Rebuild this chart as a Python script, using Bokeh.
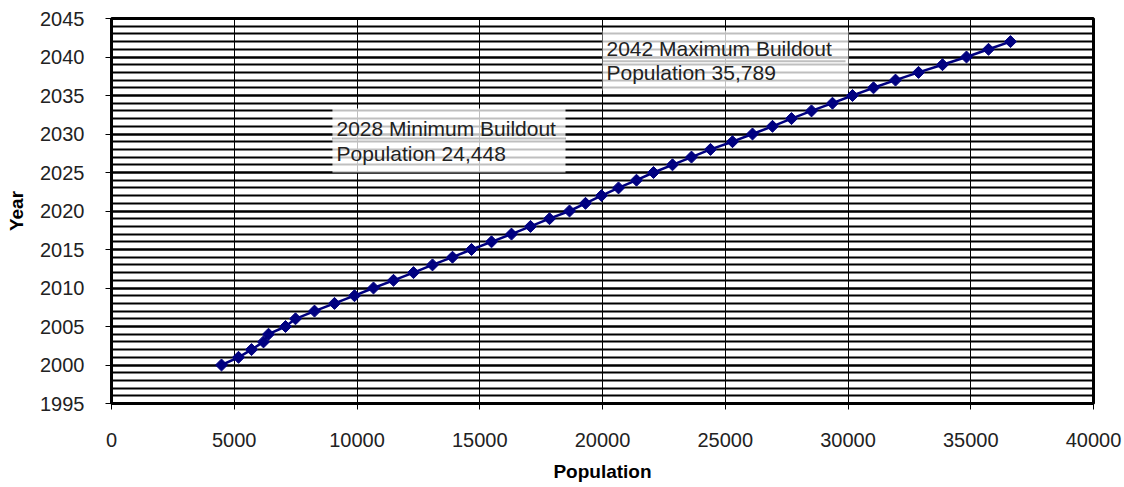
import math
from bokeh.plotting import figure
from bokeh.models import SingleIntervalTicker, Label, BoxAnnotation
from bokeh.embed import file_html
from bokeh.resources import INLINE

years = list(range(2000, 2043))
population = [4481, 5173, 5703, 6191, 6395, 7088, 7495, 8269, 9083, 9898,
              10672, 11487, 12301, 13075, 13890, 14664, 15479, 16293, 17067, 17841,
              18656, 19307, 19959, 20652, 21385, 22077, 22851, 23625, 24399, 25295,
              26110, 26924, 27698, 28513, 29368, 30183, 31039, 31935, 32872, 33849,
              34827, 35723, 36619]

min_label = ["2028 Minimum Buildout", "Population 24,448"]
max_label = ["2042 Maximum Buildout", "Population 35,789"]

FONT = "Liberation Sans"

p = figure(width=1124, height=487, output_backend="svg", toolbar_location=None,
           x_range=(0, 40000), y_range=(1995, 2045),
           min_border_left=111, min_border_right=31, min_border_top=18, min_border_bottom=84,
           background_fill_color="white", border_fill_color="white")

p.xaxis.ticker = SingleIntervalTicker(interval=5000, num_minor_ticks=0)
p.yaxis.ticker = SingleIntervalTicker(interval=5, num_minor_ticks=5)

p.xgrid.grid_line_color = "black"
p.xgrid.grid_line_width = 1
p.ygrid.grid_line_color = "black"
p.ygrid.grid_line_width = 2
p.ygrid.minor_grid_line_color = "black"
p.ygrid.minor_grid_line_width = 2

p.outline_line_color = "black"
p.outline_line_width = 3

for ax in (p.xaxis, p.yaxis):
    ax.axis_line_color = "black"
    ax.major_tick_line_color = "black"
    ax.major_tick_line_width = 1
    ax.major_tick_out = 6
    ax.major_tick_in = 0
    ax.minor_tick_line_color = None
    ax.major_label_text_font = FONT
    ax.major_label_text_font_size = "20px"
    ax.major_label_text_color = "#222222"
    ax.axis_label_text_font = FONT
    ax.axis_label_text_font_size = "19px"
    ax.axis_label_text_font_style = "bold"
    ax.axis_label_text_color = "black"

p.yaxis.axis_line_width = 3
p.xaxis.axis_line_width = 2
p.xaxis.axis_label = "Population"
p.yaxis.axis_label = "Year"
p.xaxis.major_label_standoff = 23
p.yaxis.major_label_standoff = 21
p.xaxis.axis_label_standoff = 11
p.yaxis.axis_label_standoff = 10

# annotation boxes
p.add_layout(BoxAnnotation(left=9000, right=18493, bottom=2025.0, top=2033.3,
                           fill_color="white", fill_alpha=0.75, line_color=None))
p.add_layout(BoxAnnotation(left=20000, right=30020, bottom=2035.65, top=2043.44,
                           fill_color="white", fill_alpha=0.75, line_color=None))
p.line(x=[9000, 18493], y=[2029.42, 2029.42], line_color="black", line_width=2)
p.line(x=[20000, 29900], y=[2039.45, 2039.45], line_color="black", line_width=2)

for txt, yy in zip(min_label, [2030.7, 2027.47]):
    p.add_layout(Label(x=9165, y=yy, text=txt, text_font=FONT, text_font_size="21px",
                       text_color="#222222", text_baseline="middle", text_align="left"))
for txt, yy in zip(max_label, [2041.1, 2038.0]):
    p.add_layout(Label(x=20163, y=yy, text=txt, text_font=FONT, text_font_size="21px",
                       text_color="#222222", text_baseline="middle", text_align="left"))

p.line(population, years, line_color="#000080", line_width=2.5)
p.scatter(population, years, marker="square", angle=math.pi / 4, size=8.5,
          fill_color="#000080", line_color="#000080")

open("out.html", "w").write(file_html(p, INLINE))
